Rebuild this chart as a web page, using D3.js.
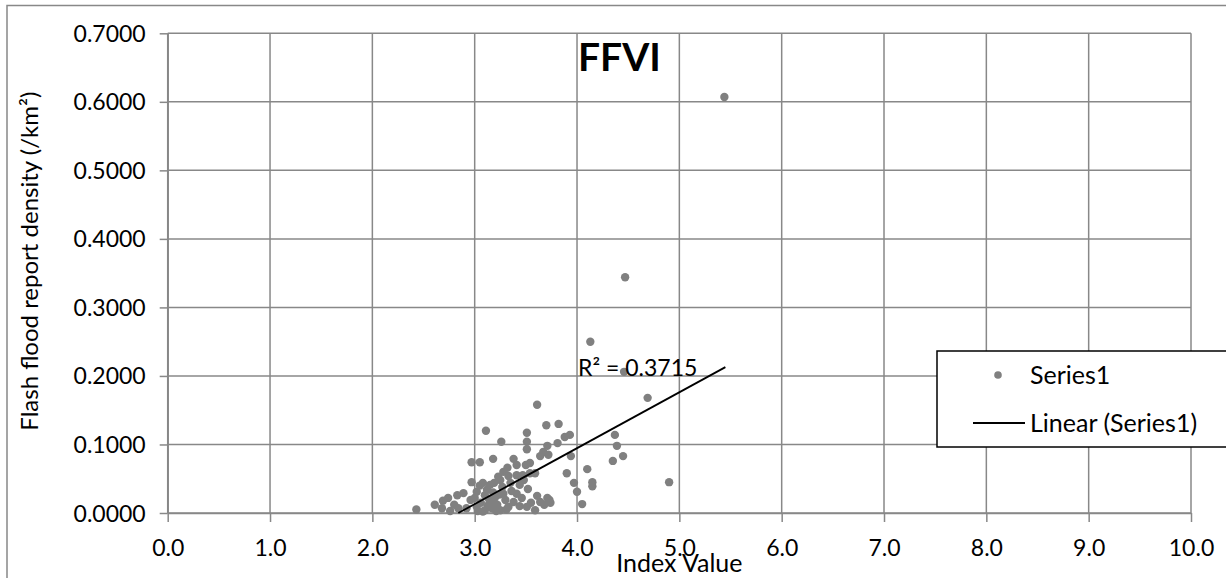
<!DOCTYPE html>
<html>
<head>
<meta charset="utf-8">
<script src="https://cdn.jsdelivr.net/npm/d3@7"></script>
<style>
  html, body { margin: 0; padding: 0; background: #fff; }
  svg { display: block; }
  text { font-family: Lato, "Open Sans", sans-serif; fill: #000; }
</style>
</head>
<body>
<svg id="chart" width="1226" height="578"></svg>
<script>
// ---- Data ----
const xValues = [5.44,4.47,4.13,4.46,4.69,4.90,4.37,4.39,4.45,4.35,4.10,4.15,4.15,3.97,3.90,3.94,3.93,3.88,3.82,3.70,
  3.11,3.51,3.26,3.51,3.71,3.81,3.51,3.67,3.64,3.72,2.97,3.05,3.18,3.38,3.41,3.50,3.54,3.59,3.28,3.23,
  3.33,3.41,3.47,3.54,2.97,3.08,3.15,3.25,3.35,3.44,4.00,3.52,3.41,3.61,3.71,3.73,4.05,2.83,2.89,2.74,
  2.96,3.02,3.12,3.20,3.30,3.38,2.61,2.68,2.76,2.84,2.92,3.02,3.10,3.17,3.25,3.33,3.44,3.51,3.59,3.64,
  2.43,3.61,3.06,3.14,3.22,3.28,3.36,3.46,3.55,3.05,3.18,3.27,3.10,2.80,2.69,3.48,3.32,3.00,3.68,3.74,
  3.08,3.13,3.21,3.16,3.24,3.31,3.03,3.19];
const yValues = [0.607,0.344,0.250,0.206,0.168,0.045,0.114,0.098,0.083,0.076,0.064,0.045,0.039,0.044,0.058,0.083,0.114,0.111,0.130,0.128,
  0.120,0.117,0.104,0.104,0.098,0.102,0.093,0.089,0.083,0.085,0.074,0.074,0.079,0.079,0.070,0.070,0.073,0.058,0.060,0.053,
  0.054,0.055,0.055,0.058,0.045,0.044,0.041,0.048,0.044,0.041,0.031,0.035,0.028,0.025,0.022,0.019,0.013,0.026,0.029,0.022,
  0.019,0.031,0.034,0.023,0.019,0.016,0.012,0.007,0.003,0.007,0.007,0.009,0.004,0.007,0.004,0.009,0.010,0.009,0.004,0.016,
  0.005,0.158,0.015,0.020,0.012,0.028,0.032,0.022,0.015,0.040,0.030,0.038,0.026,0.012,0.018,0.048,0.066,0.022,0.012,0.015,
  0.002,0.011,0.003,0.016,0.027,0.005,0.003,0.044];
const xTicks = [0,1,2,3,4,5,6,7,8,9,10];
const yTicks = [0,0.1,0.2,0.3,0.4,0.5,0.6,0.7];
// Linear trendline as drawn in the picture (clipped at y = 0)
const trendX = [2.84, 5.45];
const trendSlope = 0.0816;
const trendIntercept = -0.2318;
const rSquaredLabel = "R² = 0.3715";
const titleText = "FFVI";
const xTitle = "Index Value";
const yTitle = "Flash flood report density (/km²)";
const legendLabels = ["Series1", "Linear (Series1)"];

// ---- Layout ----
const svg = d3.select("#chart");
const plot = { left: 167.7, right: 1191, top: 33.3, bottom: 513 };
const grid = "#888888";

const x = d3.scaleLinear().domain([0, 10]).range([plot.left, plot.right]);
const y = d3.scaleLinear().domain([0, 0.7]).range([plot.bottom, plot.top]);

// outer chart border
svg.append("rect").attr("x", 7).attr("y", 5.5).attr("width", 1400).attr("height", 800)
  .attr("fill", "#fff").attr("stroke", grid).attr("stroke-width", 1.5);

// gridlines
svg.append("g").selectAll("line.h").data(yTicks).join("line")
  .attr("x1", plot.left).attr("x2", plot.right)
  .attr("y1", d => y(d)).attr("y2", d => y(d))
  .attr("stroke", grid).attr("stroke-width", 1.5);
svg.append("g").selectAll("line.v").data(xTicks).join("line")
  .attr("y1", plot.top).attr("y2", plot.bottom)
  .attr("x1", d => x(d)).attr("x2", d => x(d))
  .attr("stroke", grid).attr("stroke-width", 1.5);

// axes
const fmtY = d3.format(".4f");
const fmtX = d3.format(".1f");
const yAxis = svg.append("g").attr("transform", `translate(${plot.left},0)`)
  .call(d3.axisLeft(y).tickValues(yTicks).tickFormat(fmtY).tickSizeOuter(0).tickSizeInner(8).tickPadding(14));
const xAxis = svg.append("g").attr("transform", `translate(0,${plot.bottom})`)
  .call(d3.axisBottom(x).tickValues(xTicks).tickFormat(fmtX).tickSizeOuter(0).tickSizeInner(9).tickPadding(12));
[yAxis, xAxis].forEach(a => {
  a.select(".domain").attr("stroke", grid).attr("stroke-width", 1.5);
  a.selectAll(".tick line").attr("stroke", grid).attr("stroke-width", 1.5);
  a.selectAll(".tick text").attr("font-family", "Lato, sans-serif").attr("font-size", 23).attr("fill", "#000");
});
yAxis.selectAll(".tick text").attr("dy", null).attr("y", 8);
xAxis.selectAll(".tick text").attr("dy", null).attr("y", 43);

// points
const pts = xValues.map((v, i) => ({ x: v, y: yValues[i] }));
svg.append("g").selectAll("circle").data(pts).join("circle")
  .attr("cx", d => x(d.x)).attr("cy", d => y(d.y)).attr("r", 4.2)
  .attr("fill", "#808080");

// trendline
svg.append("line")
  .attr("x1", x(trendX[0])).attr("y1", y(trendSlope * trendX[0] + trendIntercept))
  .attr("x2", x(trendX[1])).attr("y2", y(trendSlope * trendX[1] + trendIntercept))
  .attr("stroke", "#000").attr("stroke-width", 1.8);

// R² label
svg.append("text").attr("x", 578).attr("y", 376).attr("font-size", 23).text(rSquaredLabel);

// title
svg.append("text").attr("x", 578).attr("y", 71).attr("font-size", 39).attr("font-weight", "bold").text(titleText);

// axis titles
svg.append("text").attr("x", (plot.left + plot.right) / 2).attr("y", 572)
  .attr("text-anchor", "middle").attr("font-size", 25).text(xTitle);
svg.append("text").attr("transform", `translate(38,${(plot.top + plot.bottom) / 2 - 12}) rotate(-90)`)
  .attr("text-anchor", "middle").attr("font-size", 24).text(yTitle);

// legend
const lg = svg.append("g");
lg.append("rect").attr("x", 937).attr("y", 351).attr("width", 400).attr("height", 96)
  .attr("fill", "#fff").attr("stroke", "#000").attr("stroke-width", 1.5);
lg.append("circle").attr("cx", 998).attr("cy", 375).attr("r", 3.8).attr("fill", "#808080");
lg.append("text").attr("x", 1030).attr("y", 384).attr("font-size", 25).text(legendLabels[0]);
lg.append("line").attr("x1", 973).attr("x2", 1025).attr("y1", 423).attr("y2", 423)
  .attr("stroke", "#000").attr("stroke-width", 1.8);
lg.append("text").attr("x", 1030).attr("y", 432).attr("font-size", 25).text(legendLabels[1]);
</script>
</body>
</html>
